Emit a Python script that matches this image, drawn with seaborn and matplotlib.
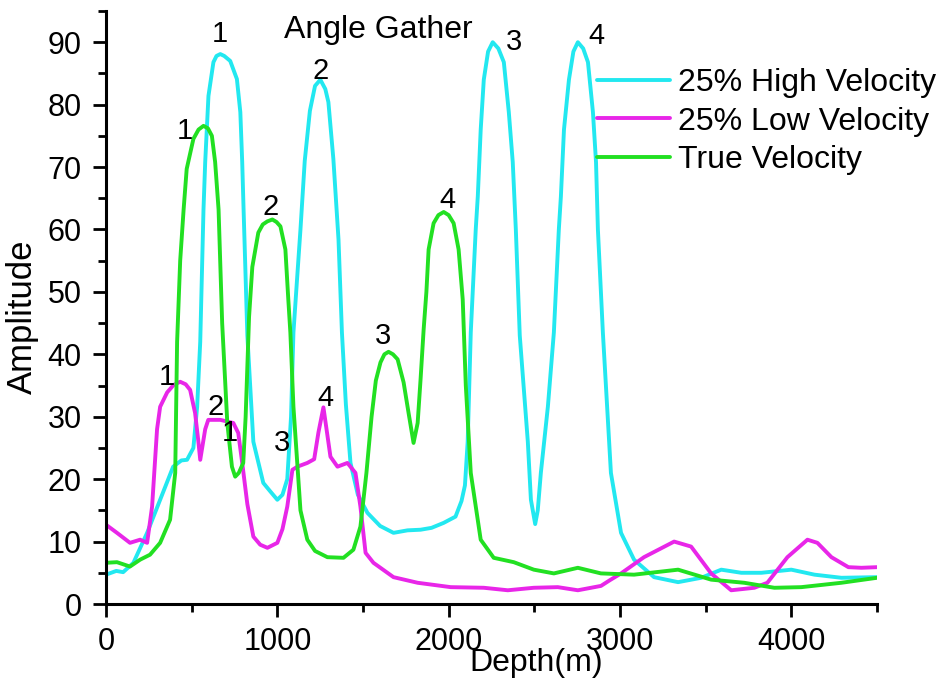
import numpy as np
import pandas as pd
import matplotlib
matplotlib.use("Agg")
import matplotlib.pyplot as plt
import seaborn as sns
from matplotlib.ticker import MultipleLocator

sns.set_theme(style="ticks")
plt.rcParams['font.family'] = ['Liberation Sans', 'DejaVu Sans']
plt.rcParams['text.color'] = 'black'
plt.rcParams['axes.labelcolor'] = 'black'
plt.rcParams['xtick.color'] = 'black'
plt.rcParams['ytick.color'] = 'black'

# ---- data ----
high_x = [0, 60, 100, 160, 240, 316, 392, 440, 473, 510, 532, 550, 569, 579, 598, 627, 645, 667,
          690, 725, 764, 784, 795, 803, 825, 860, 918, 960, 1000, 1030, 1058, 1080, 1094, 1115,
          1135, 1160, 1190, 1220, 1251, 1280, 1298, 1327, 1357, 1377, 1400, 1427, 1470, 1526, 1600,
          1678, 1760, 1836, 1900, 1971, 2040, 2075, 2095, 2111, 2129, 2158, 2170, 2187, 2205, 2230,
          2257, 2290, 2322, 2351, 2374, 2392, 2415, 2462, 2480, 2505, 2520, 2538, 2579, 2614, 2643,
          2655, 2673, 2702, 2728, 2754, 2785, 2813, 2842, 2860, 2871, 2900, 2947, 3006, 3082, 3199,
          3339, 3474, 3591, 3708, 3825, 4000, 4135, 4292, 4500]
high_y = [4.7, 5.3, 5.1, 6.6, 11.4, 16.7, 22, 23, 23.1, 25, 31.6, 42, 63.2, 70.8, 81.4, 86.8, 87.8, 88.1,
          87.8, 87, 84.1, 78.8, 70.8, 63.2, 43, 26, 19.4, 18, 16.7, 17.5, 20, 30, 43.5, 52,
          60, 71, 79, 83, 84, 82.5, 80.4, 71.3, 58.4, 43.5, 32, 22.6, 17.5, 14.6, 12.5,
          11.4, 11.8, 11.9, 12.2, 13, 14, 16.5, 19, 26, 43.5, 60, 65.3, 76, 84, 88.5,
          90, 89, 86.8, 78.8, 70.8, 60, 43, 26, 16.7, 12.8, 15, 21, 31.6, 43.5, 60,
          65.3, 76, 84, 88.5, 90, 89, 86.8, 78.8, 70.8, 60, 43.5, 21, 11.4, 7.1, 4.3,
          3.5, 4.2, 5.5, 5, 5, 5.5, 4.7, 4.2, 4.3]

low_x = [0, 64, 140, 199, 240, 269, 298, 316, 357, 395, 433, 465, 491, 520, 538, 550, 579, 597, 667,
         743, 772, 795, 825, 860, 900, 942, 1000, 1030, 1058, 1088, 1117, 1175, 1215, 1240, 1269,
         1310, 1351, 1409, 1456, 1485, 1515, 1561, 1678, 1819, 2012, 2205, 2345, 2497, 2637, 2754,
         2889, 2940, 3006, 3140, 3316, 3415, 3532, 3649, 3784, 3860, 3977, 4094, 4152, 4234, 4333,
         4409, 4500]
low_y = [12.7, 11.4, 9.8, 10.3, 9.8, 15.6, 28, 31.6, 33.9, 35.1, 35.6, 35.2, 34.3, 30.6, 26.3, 23.1,
         28, 29.5, 29.5, 29, 27.4, 22.6, 16, 10.8, 9.5, 9, 9.8, 12, 15.6, 21.5, 22, 22.6, 23.2,
         27.5, 31.5, 23.6, 22, 22.6, 21, 15.6, 8.2, 6.6, 4.3, 3.4, 2.7, 2.6, 2.2, 2.6, 2.7, 2.2,
         2.9, 3.8, 4.9, 7.5, 10, 9.2, 4.9, 2.2, 2.6, 3.4, 7.5, 10.3, 9.8, 7.5, 5.9,
         5.8, 5.9]

true_x = [0, 64, 140, 199, 257, 316, 374, 404, 415, 433, 453, 471, 510, 540, 569, 595, 618, 637, 657,
          678, 708, 735, 754, 775, 801, 815, 825, 835, 854, 889, 915, 942, 971, 995, 1018, 1047,
          1064, 1076, 1094, 1135, 1175, 1220, 1292, 1386, 1444, 1485, 1520, 1550, 1575, 1602, 1625,
          1649, 1675, 1702, 1737, 1766, 1795, 1819, 1836, 1854, 1870, 1883, 1912, 1940, 1971, 2000,
          2029, 2058, 2082, 2100, 2129, 2187, 2263, 2380, 2497, 2614, 2754, 2889, 3082, 3339, 3532,
          3725, 3901, 4058, 4292, 4500]
true_y = [6.6, 6.7, 6.0, 7.1, 7.9, 9.8, 13.5, 21, 42, 55, 63.2, 69.7, 74.5, 76, 76.6, 76.2, 75, 70.8,
          63.2, 45, 29, 22, 20.4, 21, 22.6, 30, 38, 46, 54, 59.5, 60.8, 61.3, 61.6, 61.2, 60.5,
          56.8, 48.8, 43.5, 31.6, 15, 10.3, 8.5, 7.5, 7.4, 8.7, 12.4, 21, 30, 35.8, 38.7, 40,
          40.4, 40, 39.2, 35.5, 30.6, 25.8, 29, 36, 44, 50, 56.8, 61, 62.3, 62.8, 62.3,
          61, 56.8, 48.8, 35, 21, 10.3, 7.4, 6.7, 5.5, 4.9, 5.8, 4.9, 4.7, 5.5, 3.9,
          3.4, 2.6, 2.7, 3.4, 4.2]

series_names = ["25% High Velocity", "25% Low Velocity", "True Velocity"]
colors = ["#22E8F0", "#E826E8", "#22E022"]

# peak labels: (text, x, y)
label_text = ["1", "2", "3", "4", "1", "2", "3", "4", "1", "2", "1", "3", "4"]
label_x = [667, 1251, 2380, 2860, 462, 959, 1614, 1994, 357, 637, 725, 1029, 1281]
label_y = [91.3, 85.4, 90.0, 91.0, 75.8, 63.6, 43.0, 64.8, 36.3, 31.5, 27.4, 25.8, 33.0]

df = pd.concat([
    pd.DataFrame({"Depth": high_x, "Amplitude": high_y, "series": series_names[0]}),
    pd.DataFrame({"Depth": low_x, "Amplitude": low_y, "series": series_names[1]}),
    pd.DataFrame({"Depth": true_x, "Amplitude": true_y, "series": series_names[2]}),
], ignore_index=True)

fig = plt.figure(figsize=(9.49, 6.89), dpi=100)
ax = fig.add_axes([106/949, 1 - 604/689, (877-106)/949, (604-11)/689])

sns.lineplot(data=df, x="Depth", y="Amplitude", hue="series", hue_order=series_names,
             palette=colors, sort=False, estimator=None, linewidth=2.8, ax=ax)
for ln in ax.lines:
    ln.set_solid_joinstyle("round")
    ln.set_solid_capstyle("round")

ax.set_xlim(0, 4500)
ax.set_ylim(0, 95)
ax.xaxis.set_major_locator(MultipleLocator(1000))
ax.xaxis.set_minor_locator(MultipleLocator(500))
ax.yaxis.set_major_locator(MultipleLocator(10))
ax.yaxis.set_minor_locator(MultipleLocator(5))
for s in ["top", "right"]:
    ax.spines[s].set_visible(False)
for s in ["left", "bottom"]:
    ax.spines[s].set_linewidth(2.2)
    ax.spines[s].set_color("black")
ax.tick_params(which="major", length=9.5, width=2, labelsize=22, colors="black")
ax.tick_params(axis="y", which="major", pad=8)
ax.tick_params(axis="x", which="major", pad=7)
ax.tick_params(which="minor", length=6, width=2, colors="black")
ax.set_xlabel("Depth(m)", fontsize=23)
ax.set_ylabel("Amplitude", fontsize=25)
ax.xaxis.set_label_coords(0.558, -0.075)
ax.yaxis.set_label_coords(-0.087, 0.484)

ax.text(1588, 92.0, "Angle Gather", fontsize=23, ha="center", va="center")
for t, x, y in zip(label_text, label_x, label_y):
    ax.text(x, y, t, fontsize=21, ha="center", va="center")

handles, labels = ax.get_legend_handles_labels()
leg = ax.legend(handles, labels, loc="upper left", bbox_to_anchor=(597/949, 1 - 68/689),
                bbox_transform=fig.transFigure, frameon=False, fontsize=23, handlelength=2.3,
                handletextpad=0.25, labelspacing=0.27, borderpad=0, borderaxespad=0)
for lh in leg.get_lines():
    lh.set_linewidth(2.8)

fig.savefig("out.png", dpi=100)
